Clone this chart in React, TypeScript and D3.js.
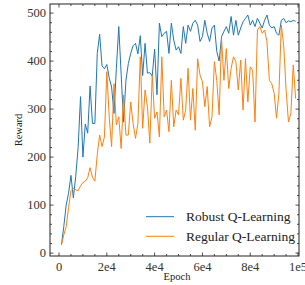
import React from "react";
import * as d3 from "d3";

const epochs: number[] = Array.from({ length: 99 }, (_, i) => (i + 1) * 1000);

const robust: number[] = [
  17, 55, 100, 125, 162, 115, 160, 220, 326, 200,
  269, 250, 348, 270, 270, 416, 456, 390, 384, 393,
  365, 346, 291, 385, 472, 372, 273, 360, 395, 416,
  432, 437, 415, 453, 370, 437, 375, 376, 369, 425,
  330, 479, 451, 458, 462, 416, 479, 444, 423, 430,
  416, 472, 437, 475, 462, 479, 485, 475, 441, 451,
  485, 458, 441, 469, 475, 420, 400, 451, 462, 472,
  458, 493, 454, 485, 454, 469, 482, 489, 496, 475,
  485, 472, 489, 479, 469, 485, 496, 475, 469, 472,
  458, 454, 485, 489, 480, 484, 482, 485, 483,
];

const regular: number[] = [
  17, 38, 55, 95, 130, 135, 132, 130, 140, 147,
  150, 157, 178, 158, 150, 205, 246, 222, 242, 378,
  284, 222, 353, 267, 284, 218, 329, 246, 246, 315,
  270, 239, 270, 409, 260, 340, 305, 229, 371, 281,
  294, 242, 409, 284, 298, 253, 360, 263, 298, 288,
  364, 277, 298, 385, 277, 343, 256, 405, 371, 357,
  305, 347, 263, 284, 399, 360, 288, 447, 360, 426,
  343, 385, 409, 399, 340, 402, 298, 405, 315, 388,
  381, 273, 465, 472, 458, 465, 440, 360, 353, 333,
  281, 333, 475, 433, 340, 273, 291, 392, 322,
];

const seriesNames: string[] = ["Robust Q-Learning", "Regular Q-Learning"];
const xTickValues: number[] = [0, 20000, 40000, 60000, 80000, 100000];
const xTickLabels: string[] = ["0", "2e4", "4e4", "6e4", "8e4", "1e5"];
const yTickValues: number[] = [0, 100, 200, 300, 400, 500];
const yTickLabels: string[] = ["0", "100", "200", "300", "400", "500"];

const W = 305;
const H = 285;
const L = 50, R = 299, T = 4, B = 256;
const colors = ["#1f77b4", "#ff7f0e"];
const font = "'Liberation Serif', 'DejaVu Serif', serif";

export default function App() {
  const x = d3.scaleLinear().domain([-3770, 100400]).range([L, R]);
  const y = d3.scaleLinear().domain([-6, 519]).range([B, T]);
  const line = d3
    .line<number>()
    .x((_, i) => x(epochs[i]))
    .y((d) => y(d));

  const xMinor = d3.range(0, 100001, 5000).filter((v) => xTickValues.indexOf(v) < 0);
  const yMinor = d3.range(0, 519, 20).filter((v) => yTickValues.indexOf(v) < 0);
  const major = 3.5;
  const minor = 2;
  const tickColor = "#222";

  return (
    <svg
      width={W}
      height={H}
      style={{ position: "absolute", left: 0, top: 0, background: "#fff" }}
      fontFamily={font}
    >
      <rect x={0} y={0} width={W} height={H} fill="#fff" />
      <path d={line(robust) || ""} fill="none" stroke={colors[0]} strokeWidth={1} strokeLinejoin="round" />
      <path d={line(regular) || ""} fill="none" stroke={colors[1]} strokeWidth={1} strokeLinejoin="round" />

      <g stroke={tickColor} strokeWidth={0.8}>
        {xTickValues.map((v) => (
          <g key={"xt" + v}>
            <line x1={x(v)} x2={x(v)} y1={B} y2={B - major} />
            <line x1={x(v)} x2={x(v)} y1={T} y2={T + major} />
          </g>
        ))}
        {xMinor.map((v) => (
          <g key={"xm" + v}>
            <line x1={x(v)} x2={x(v)} y1={B} y2={B - minor} />
            <line x1={x(v)} x2={x(v)} y1={T} y2={T + minor} />
          </g>
        ))}
        {yTickValues.map((v) => (
          <g key={"yt" + v}>
            <line x1={L} x2={L + major} y1={y(v)} y2={y(v)} />
            <line x1={R} x2={R - major} y1={y(v)} y2={y(v)} />
          </g>
        ))}
        {yMinor.map((v) => (
          <g key={"ym" + v}>
            <line x1={L} x2={L + minor} y1={y(v)} y2={y(v)} />
            <line x1={R} x2={R - minor} y1={y(v)} y2={y(v)} />
          </g>
        ))}
      </g>
      <rect x={L} y={T} width={R - L} height={B - T} fill="none" stroke="#222" strokeWidth={1} />

      <g fontSize={12.5} fill="#333">
        {xTickValues.map((v, i) => (
          <text key={"xl" + v} x={x(v)} y={270.5} textAnchor="middle">
            {xTickLabels[i]}
          </text>
        ))}
        {yTickValues.map((v, i) => (
          <text key={"yl" + v} x={46} y={y(v) + 4.3} textAnchor="end">
            {yTickLabels[i]}
          </text>
        ))}
      </g>

      <text x={177} y={279.5} fontSize={10.5} textAnchor="middle" fill="#222">
        Epoch
      </text>
      <text
        transform={`translate(22,130) rotate(-90)`}
        fontSize={10.5}
        textAnchor="middle"
        fill="#222"
      >
        Reward
      </text>

      {seriesNames.map((n, i) => (
        <g key={n}>
          <line x1={146} x2={174} y1={216.7 + i * 19.6} y2={216.7 + i * 19.6} stroke={colors[i]} strokeWidth={1} />
          <text x={186} y={216.7 + i * 19.6 + 4.5} fontSize={13.5} fill="#222">
            {n}
          </text>
        </g>
      ))}
    </svg>
  );
}
